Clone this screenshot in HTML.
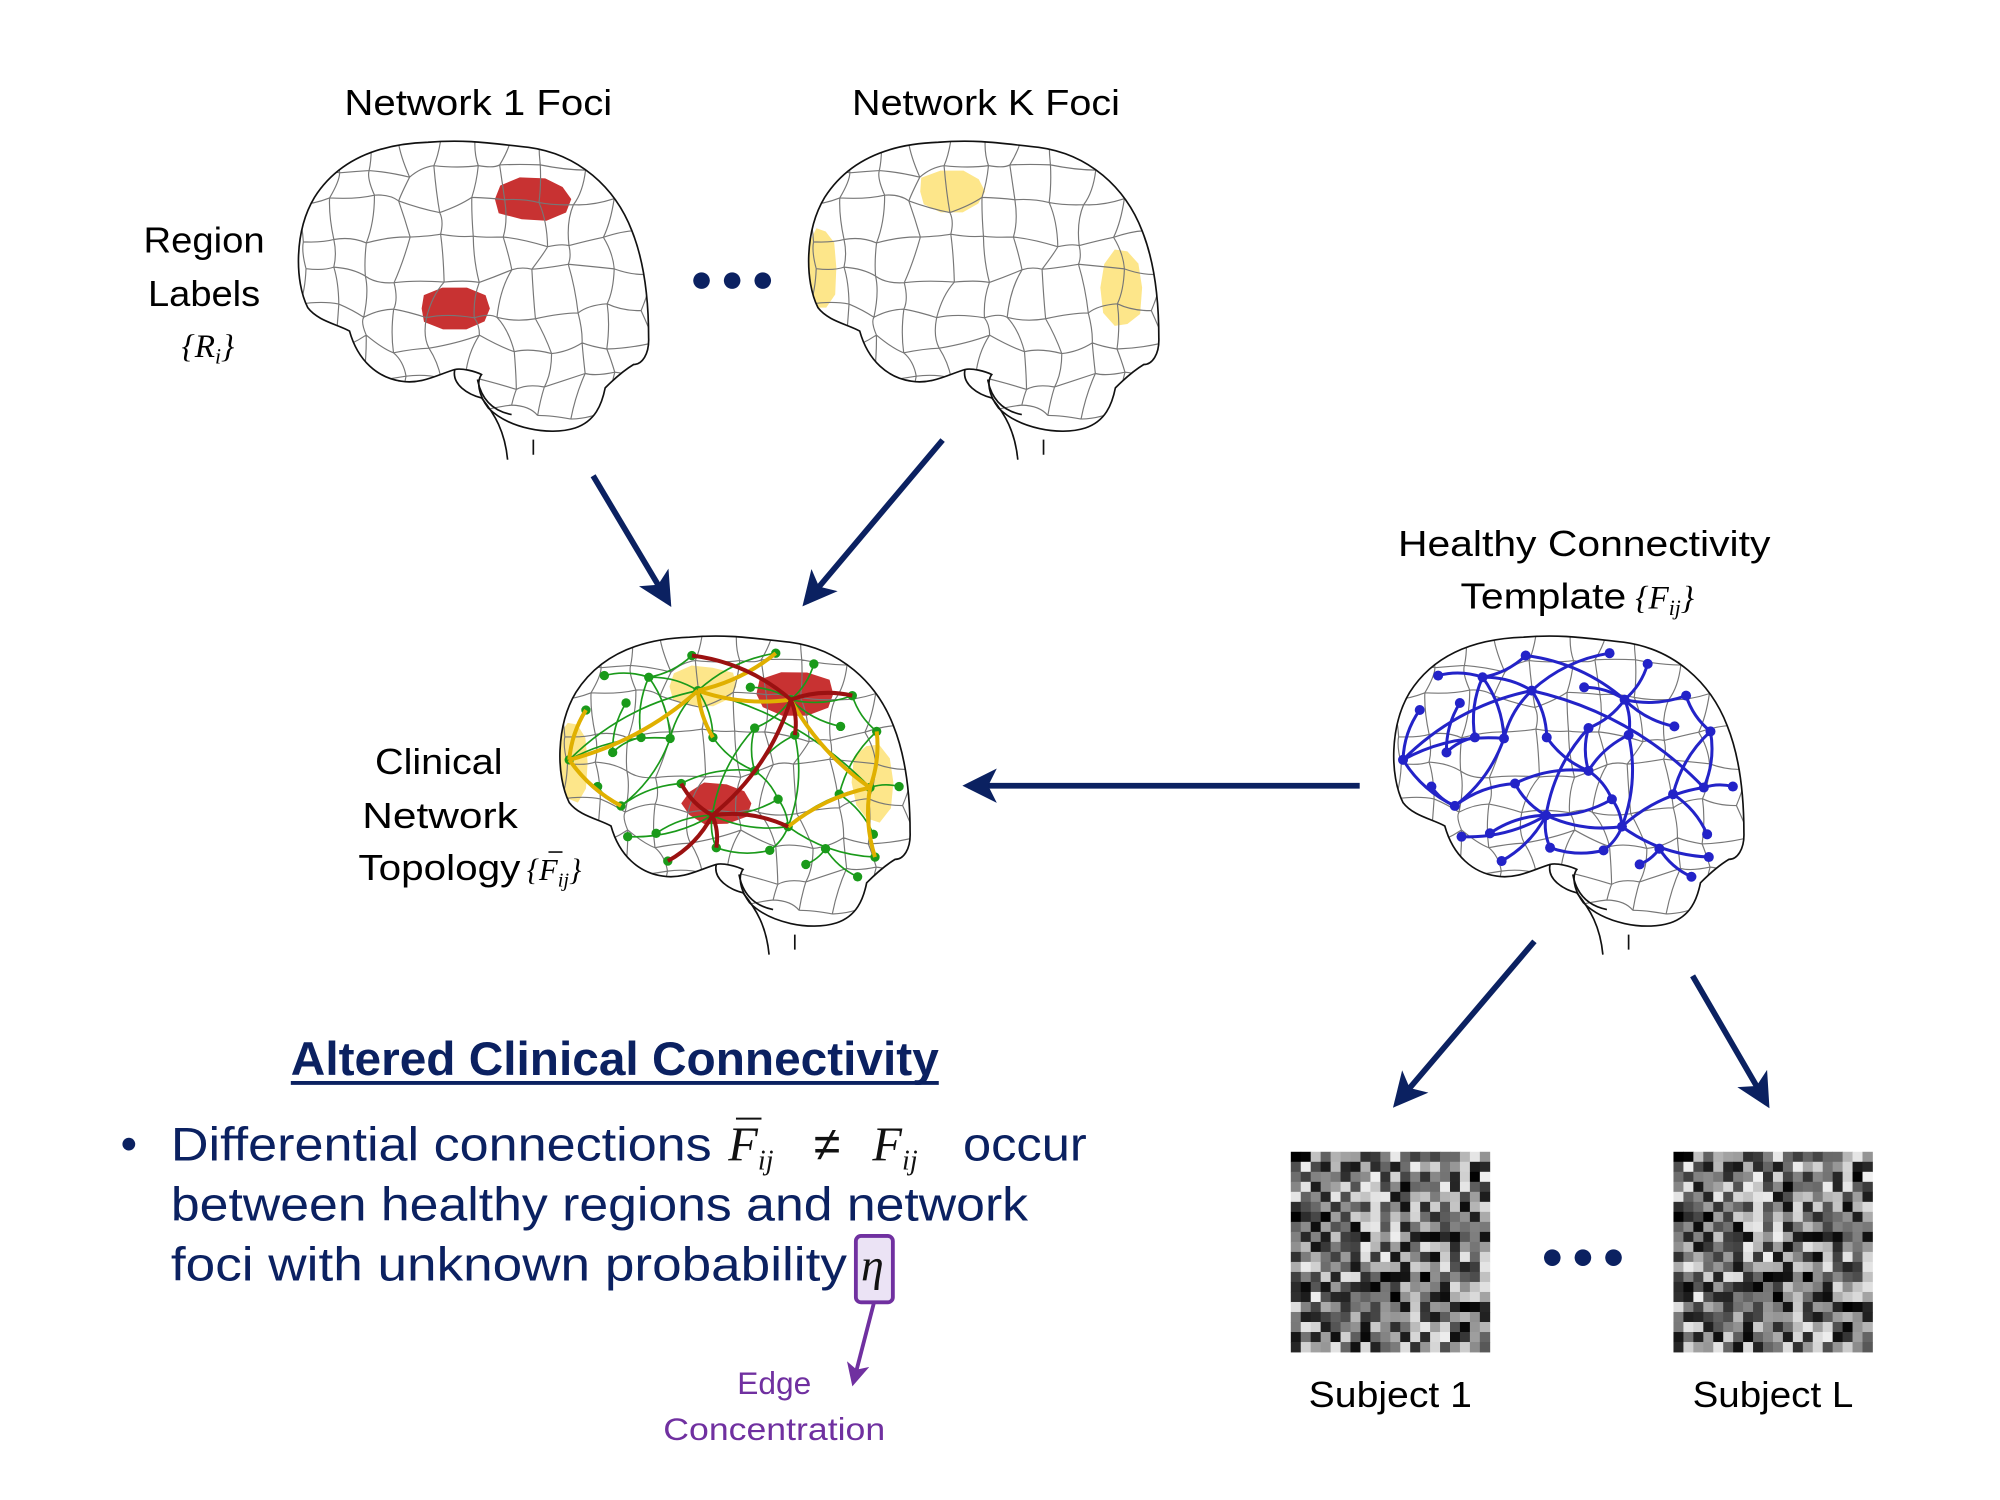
<!DOCTYPE html>
<html><head><meta charset="utf-8"><style>
html,body{margin:0;padding:0;background:#fff;}
svg{display:block;}
text{font-family:"Liberation Sans",sans-serif;}
.m{font-family:"Liberation Serif",serif;font-style:italic;}
</style></head><body>
<svg id="s" width="2000" height="1500" viewBox="0 0 1568 1176" xmlns="http://www.w3.org/2000/svg">
<defs>
<clipPath id="bc"><path id="outlineP" d="M40,560 C0,480 0,330 60,230 C130,120 250,70 400,65 C520,55 600,70 700,80 C850,100 960,200 1010,330 C1050,430 1060,550 1060,650 C1062,700 1040,730 1015,730 C990,745 960,770 930,800 C920,850 900,900 840,920 C760,945 640,920 580,860 C550,820 545,780 560,760 C540,750 500,740 480,745 C430,760 380,790 320,780 C250,770 190,720 165,630 C130,610 70,600 40,560 Z"/></clipPath>
<marker id="ah" markerWidth="6" markerHeight="6" refX="5" refY="3" orient="auto" markerUnits="strokeWidth"><path d="M0,0 L6,3 L0,6 L1.5,3 Z" fill="#0b2161"/></marker>
<marker id="ap" markerWidth="6" markerHeight="6" refX="5" refY="3" orient="auto" markerUnits="strokeWidth"><path d="M0,0 L6,3 L0,6 L1.5,3 Z" fill="#7030a0"/></marker>
</defs>
<g id="b1" transform="translate(230.8,94.5) scale(0.262)"></g>
<g id="bK" transform="translate(630.8,94.5) scale(0.262)"></g>
<g id="bC" transform="translate(435.8,482.5) scale(0.262)"></g>
<g id="bH" transform="translate(1089.5,482.5) scale(0.262)"></g>

<text x="375" y="90" font-size="28" text-anchor="middle" textLength="210" lengthAdjust="spacingAndGlyphs">Network 1 Foci</text>
<text x="773" y="90" font-size="28" text-anchor="middle" textLength="210" lengthAdjust="spacingAndGlyphs">Network K Foci</text>
<text x="160" y="198" font-size="28" text-anchor="middle" textLength="95" lengthAdjust="spacingAndGlyphs">Region</text>
<text x="160" y="240" font-size="28" text-anchor="middle" textLength="88" lengthAdjust="spacingAndGlyphs">Labels</text>
<text x="163" y="280" font-size="26" text-anchor="middle" class="m">{R<tspan font-size="17" dy="5">i</tspan><tspan dy="-5">}</tspan></text>
<circle cx="550" cy="220" r="6.5" fill="#0b2161"/><circle cx="574" cy="220" r="6.5" fill="#0b2161"/><circle cx="598" cy="220" r="6.5" fill="#0b2161"/>

<text x="1242" y="436" font-size="28" text-anchor="middle" textLength="292" lengthAdjust="spacingAndGlyphs">Healthy Connectivity</text>
<text x="1145" y="477" font-size="28" textLength="130" lengthAdjust="spacingAndGlyphs">Template</text>
<text x="1282" y="477" font-size="26" class="m">{F<tspan font-size="17" dy="5">ij</tspan><tspan dy="-5">}</tspan></text>

<text x="344" y="607" font-size="28" text-anchor="middle" textLength="100" lengthAdjust="spacingAndGlyphs">Clinical</text>
<text x="345" y="649" font-size="28" text-anchor="middle" textLength="122" lengthAdjust="spacingAndGlyphs">Network</text>
<text x="281" y="690" font-size="28" textLength="127" lengthAdjust="spacingAndGlyphs">Topology</text>
<text x="413" y="690" font-size="24" class="m">{F<tspan font-size="16" dy="5">ij</tspan><tspan dy="-5">}</tspan></text>
<line x1="430" y1="668" x2="441" y2="668" stroke="#000" stroke-width="1.2"/>

<g stroke="#0b2161" stroke-width="4.5" fill="none">
<line x1="465" y1="373" x2="524" y2="472" marker-end="url(#ah)"/>
<line x1="739" y1="345" x2="632" y2="472" marker-end="url(#ah)"/>
<line x1="1066" y1="616" x2="759" y2="616" marker-end="url(#ah)"/>
<line x1="1203" y1="738" x2="1095" y2="865" marker-end="url(#ah)"/>
<line x1="1327" y1="765" x2="1385" y2="865" marker-end="url(#ah)"/>
</g>

<text x="482" y="843" font-size="37" font-weight="bold" fill="#0b2161" text-anchor="middle" textLength="508" lengthAdjust="spacingAndGlyphs">Altered Clinical Connectivity</text>
<line x1="228" y1="849" x2="736" y2="849" stroke="#0b2161" stroke-width="3"/>
<circle cx="101" cy="897" r="5" fill="#0b2161"/>
<g fill="#0b2161" font-size="37">
<text x="134" y="910" textLength="424" lengthAdjust="spacingAndGlyphs">Differential connections</text>
<text x="755" y="910" textLength="97" lengthAdjust="spacingAndGlyphs">occur</text>
<text x="134" y="957" textLength="672" lengthAdjust="spacingAndGlyphs">between healthy regions and network</text>
<text x="134" y="1004" textLength="530" lengthAdjust="spacingAndGlyphs">foci with unknown probability</text>
</g>
<g fill="#111">
<text x="571" y="910" font-size="38" class="m">F<tspan font-size="22" dy="7">ij</tspan></text>
<text x="638" y="910" font-size="38" font-family="Liberation Serif">≠</text>
<text x="684" y="910" font-size="38" class="m">F<tspan font-size="22" dy="7">ij</tspan></text>
</g>
<line x1="577" y1="877" x2="597" y2="877" stroke="#111" stroke-width="1.5"/>
<rect x="671" y="969" width="29" height="52" rx="4" fill="#ebe3f5" stroke="#7030a0" stroke-width="3"/>
<text x="675" y="1004" font-size="36" class="m" fill="#111">η</text>
<line x1="685" y1="1022" x2="669" y2="1084" stroke="#7030a0" stroke-width="3" marker-end="url(#ap)"/>
<text x="607" y="1093" font-size="25" fill="#7030a0" text-anchor="middle" textLength="58" lengthAdjust="spacingAndGlyphs">Edge</text>
<text x="607" y="1129" font-size="25" fill="#7030a0" text-anchor="middle" textLength="174" lengthAdjust="spacingAndGlyphs">Concentration</text>

<g id="m1" transform="translate(1012,903)"></g>
<g id="m2" transform="translate(1312,903)"></g>
<circle cx="1217" cy="986" r="6.5" fill="#0b2161"/><circle cx="1241" cy="986" r="6.5" fill="#0b2161"/><circle cx="1265" cy="986" r="6.5" fill="#0b2161"/>
<text x="1090" y="1103" font-size="28" text-anchor="middle" textLength="128" lengthAdjust="spacingAndGlyphs">Subject 1</text>
<text x="1390" y="1103" font-size="28" text-anchor="middle" textLength="126" lengthAdjust="spacingAndGlyphs">Subject L</text>
</svg>
<script>
var NS="http://www.w3.org/2000/svg";
function el(p,t,a){var e=document.createElementNS(NS,t);for(var k in a)e.setAttribute(k,a[k]);p.appendChild(e);return e;}
var seed=7;function rnd(){seed=(seed*16807)%2147483647;return seed/2147483647;}
var outline=document.getElementById('outlineP').getAttribute('d');
var pts=[],gs=105,cols=11,rows=9;
for(var r=0;r<rows;r++){pts[r]=[];for(var c=0;c<cols;c++){pts[r][c]=[c*gs+5+(rnd()-0.5)*60,r*gs+40+(rnd()-0.5)*60];}}
var sd="";
for(var r=0;r<rows;r++)for(var c=0;c<cols;c++){var p=pts[r][c];
 if(c<cols-1){var q=pts[r][c+1];sd+="M"+p[0]+","+p[1]+" Q"+((p[0]+q[0])/2+(rnd()-0.5)*30)+","+((p[1]+q[1])/2+(rnd()-0.5)*30)+" "+q[0]+","+q[1];}
 if(r<rows-1){var q=pts[r+1][c];sd+="M"+p[0]+","+p[1]+" Q"+((p[0]+q[0])/2+(rnd()-0.5)*30)+","+((p[1]+q[1])/2+(rnd()-0.5)*30)+" "+q[0]+","+q[1];}}
function blob(x0,y0,x1,y1){var cx=(x0+x1)/2,cy=(y0+y1)/2,rx=(x1-x0)/2,ry=(y1-y0)/2,d="";
 for(var i=0;i<10;i++){var a=i/10*Math.PI*2,f=0.85+rnd()*0.2;var x=cx+Math.cos(a)*rx*f*1.1,y=cy+Math.sin(a)*ry*f*1.1;
 x=Math.max(x0,Math.min(x1,x));y=Math.max(y0,Math.min(y1,y));d+=(i?"L":"M")+x+","+y;}return d+"Z";}
function brain(g,regions){
 el(g,'path',{d:outline,fill:'#fff'});
 var cl=el(g,'g',{'clip-path':'url(#bc)'});
 regions.forEach(function(rg){el(cl,'path',{d:blob(rg[0],rg[1],rg[2],rg[3]),fill:rg[4]});});
 el(cl,'path',{d:sd,fill:'none',stroke:'#777','stroke-width':3.5});
 el(g,'path',{d:outline,fill:'none',stroke:'#111','stroke-width':5});
 el(g,'path',{d:"M480,745 C470,790 520,820 560,830 M560,830 C600,880 630,930 638,1015 M548,775 C560,840 600,870 650,880 M715,955 L715,1000",fill:'none',stroke:'#111','stroke-width':5});
}
var RED='#c83232',YEL='#fde68a';
var redR=[[600,170,830,300,RED],[375,500,585,625,RED]];
var yelR=[[340,150,540,275,YEL],[5,320,95,560,YEL],[885,380,1010,620,YEL]];
brain(document.getElementById('b1'),redR);
brain(document.getElementById('bK'),yelR);
brain(document.getElementById('bC'),redR.concat(yelR));
brain(document.getElementById('bH'),[]);
var N={A:[145,180],B:[278,185],C:[407,120],D:[658,113],E:[772,145],F:[582,215],G:[425,225],H:[703,252],I:[887,240],J:[90,283],K:[210,262],L:[852,332],M:[960,347],Nn:[595,337],O:[255,365],P:[342,368],Q:[470,365],R:[715,358],S:[170,410],T:[40,432],U:[595,465],V:[940,515],W:[1027,512],X:[125,512],Y:[375,503],Z:[848,535],a:[665,550],b:[195,570],c:[468,598],d:[695,632],e:[215,662],f:[300,652],g:[950,655],h:[480,695],i:[640,703],j:[955,723],k:[335,735],l:[807,698],m:[748,745],n:[903,782]};
var E="A-B B-C C-H D-G B-G B-O B-P G-P G-Q G-T G-V K-S S-O J-T T-P T-b b-X b-P b-Y Y-c Y-U Q-U U-Nn Nn-H F-H H-L H-R H-E R-d R-U c-Nn c-a c-e c-f c-k c-h d-c d-a d-i d-j d-V V-M V-W M-Z Z-g I-M I-H h-i l-m l-n U-a".split(" ");
function curve(p,q,k){var mx=(p[0]+q[0])/2,my=(p[1]+q[1])/2,dx=q[0]-p[0],dy=q[1]-p[1];return "M"+p+" Q"+(mx-dy*k)+","+(my+dx*k)+" "+q;}
function net(g,col,w,r){E.forEach(function(e,i){var s=e.split("-");el(g,'path',{d:curve(N[s[0]],N[s[1]],(i%2?0.15:-0.15)),fill:'none',stroke:col,'stroke-width':w});});
 for(var k in N)el(g,'circle',{cx:N[k][0],cy:N[k][1],r:r,fill:col});}
var gH=document.getElementById('bH');net(gH,'#2323c8',9,15);
var gC=document.getElementById('bC');net(gC,'#1a9a1a',5,14);
var Y2="T-G G-D G-Q G-H H-V T-b V-d V-j V-M J-T".split(" "),R2="C-H H-I H-R H-c c-k c-h c-d c-Y".split(" ");
Y2.forEach(function(e){var s=e.split("-");el(gC,'path',{d:curve(N[s[0]],N[s[1]],0.12),fill:'none',stroke:'#e0b000','stroke-width':12});});
R2.forEach(function(e){var s=e.split("-");el(gC,'path',{d:curve(N[s[0]],N[s[1]],-0.15),fill:'none',stroke:'#9b1111','stroke-width':12});});
seed=99;var cells=[];for(var i=0;i<400;i++){cells.push(Math.floor(rnd()*240));}
["m1","m2"].forEach(function(id){var g=document.getElementById(id);for(var y=0;y<20;y++)for(var x=0;x<20;x++){var v=cells[y*20+x];el(g,'rect',{x:x*7.8,y:y*7.85,width:8.1,height:8.15,fill:'rgb('+v+','+v+','+v+')'});}});
</script>
</body></html>
